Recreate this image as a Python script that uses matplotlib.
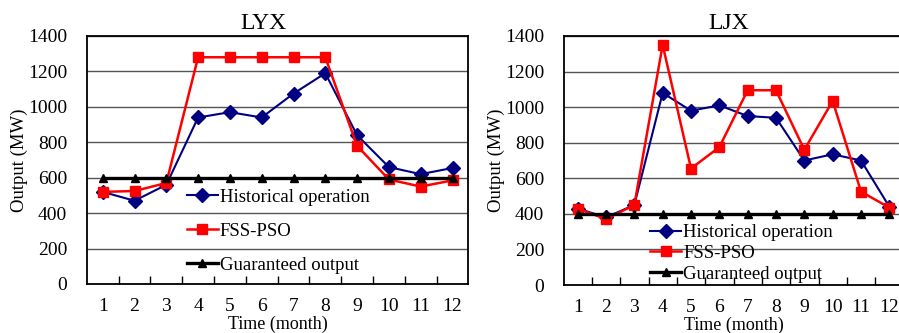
import matplotlib
matplotlib.use("Agg")
import matplotlib.pyplot as plt
import numpy as np

months = [1, 2, 3, 4, 5, 6, 7, 8, 9, 10, 11, 12]
month_labels = [str(m) for m in months]

# LYX station (MW)
lyx_hist = [520, 470, 560, 940, 970, 940, 1075, 1190, 840, 660, 620, 655]
lyx_fss = [520, 525, 570, 1280, 1280, 1280, 1280, 1280, 780, 590, 550, 585]
lyx_guar = [600] * 12

# LJX station (MW)
ljx_hist = [430, 380, 450, 1080, 980, 1010, 950, 940, 700, 735, 700, 440]
ljx_fss = [430, 370, 450, 1350, 655, 775, 1095, 1095, 760, 1035, 525, 435]
ljx_guar = [400] * 12

yticks = [0, 200, 400, 600, 800, 1000, 1200, 1400]

plt.rcParams["font.family"] = ["Liberation Serif", "DejaVu Serif"]

W, H = 899, 333
fig = plt.figure(figsize=(W / 100, H / 100), dpi=100)


def panel(rect, title, title_x, hist, fss, guar, leg_anchor, leg_space):
    ax = fig.add_axes(rect)
    x = np.arange(len(months))
    ax.plot(x, hist, color="#000080", lw=1.5, marker="D", ms=7,
            label="Historical operation", zorder=3)
    ax.plot(x, fss, color="#ff0000", lw=1.8, marker="s", ms=7.5,
            label="FSS-PSO", zorder=4)
    ax.plot(x, guar, color="black", lw=2.4, marker="^", ms=6,
            label="Guaranteed output", zorder=5)
    ax.set_xlim(-0.5, len(months) - 0.5)
    ax.set_ylim(0, 1400)
    ax.set_yticks(yticks)
    ax.tick_params(axis="y", length=0, labelsize=14, pad=14)
    ax.set_xticks(x)
    ax.set_xticklabels(month_labels)
    ax.tick_params(axis="x", which="major", length=0, labelsize=14, pad=10)
    ax.set_xticks(np.arange(0.5, len(months) - 0.5, 1), minor=True)
    ax.tick_params(axis="x", which="minor", direction="in", length=6,
                   width=1, color="black")
    ax.grid(True, axis="y", color="#555555", lw=1)
    ax.set_axisbelow(True)
    for s in ax.spines.values():
        s.set_color("black")
        s.set_linewidth(1.3)
    ax.set_title(title, fontsize=17, pad=5, x=title_x)
    ax.set_ylabel("Output (MW)", fontsize=13.5, labelpad=0)
    ax.set_xlabel("Time (month)", fontsize=13, labelpad=0.5)
    ax.legend(loc="upper left", bbox_to_anchor=leg_anchor, frameon=False,
              fontsize=13.5, handlelength=1.65, handletextpad=0.1,
              labelspacing=leg_space, borderaxespad=0, borderpad=0)
    return ax


panel([86.8 / W, 1 - 284 / H, 381.6 / W, 248 / H], "LYX", 0.463,
      lyx_hist, lyx_fss, lyx_guar, (0.262, 0.385), 0.9)
panel([563.5 / W, 1 - 285 / H, 340 / W, 249 / H], "LJX", 0.487,
      ljx_hist, ljx_fss, ljx_guar, (0.255, 0.245), 0.2)

fig.savefig("out.png", dpi=100)
